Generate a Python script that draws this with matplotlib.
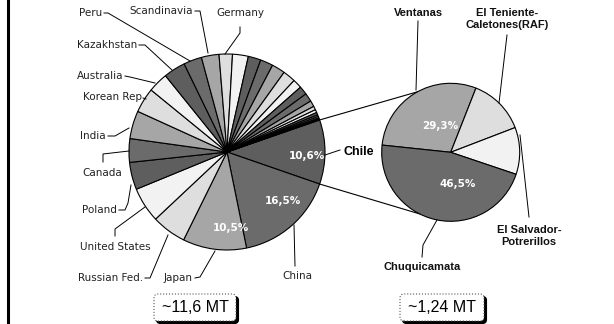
import matplotlib
matplotlib.use('Agg')
import matplotlib.pyplot as plt
from matplotlib.patches import FancyBboxPatch
import numpy as np

# world refined copper consumption share (%) - clockwise from Chile
countries = ['Chile', 'China', 'Japan', 'Russian Fed.', 'United States', 'Poland',
             'Canada', 'India', 'Korean Rep', 'Australia', 'Kazakhstan', 'Peru',
             'Scandinavia', 'Germany']
country_share = [10.6, 16.5, 10.5, 5.7, 5.8, 4.5, 3.9, 4.6, 4.1, 3.3, 3.6, 3.0, 2.9, 2.2]
# remaining small producers, no label
others_share = [2.6, 2.1, 2.1, 2.2, 2.1, 1.5, 1.4, 1.4, 1.0,
                0.6, 0.5, 0.4, 0.3, 0.25, 0.15, 0.1, 0.1]

# Chilean smelters, share of Chile (%)
smelters = ['Ventanas', 'El Teniente-\nCaletones(RAF)', 'El Salvador-\nPotrerillos', 'Chuquicamata']
smelter_share = [29.3, 13.2, 11.0, 46.5]

totals = ['~11,6 MT', '~1,24 MT']

H = 324
def Y(y):
    return H - y

grays = ['#5e5e5e', '#6b6b6b', '#a6a6a6', '#dedede', '#f2f2f2']

fig = plt.figure(figsize=(6.14, 3.24), dpi=100)
ax = fig.add_axes([0, 0, 1, 1])

big_c = (227, Y(152))
big_r = 98
vals = country_share + others_share
cols = [grays[i % 5] for i in range(len(vals))]
# Chile slice centred on the horizontal
big_start = 360 * country_share[0] / 100 / 2
wedges, _ = ax.pie(vals, colors=cols, startangle=big_start, counterclock=False,
                   center=big_c, radius=big_r,
                   wedgeprops=dict(edgecolor='black', linewidth=0.8))

small_c = (450.7, Y(152.3))
small_r = 69
s_wedges, _ = ax.pie(smelter_share, colors=['#a6a6a6', '#dedede', '#f2f2f2', '#6b6b6b'],
                     startangle=174, counterclock=False, center=small_c, radius=small_r,
                     wedgeprops=dict(edgecolor='black', linewidth=0.8))

# lines from the Chile slice to the smelter pie
chile = wedges[0]
for a_big, a_small in [(chile.theta2, 118.7), (chile.theta1, 243.2)]:
    x0 = big_c[0] + big_r * np.cos(np.radians(a_big))
    y0 = big_c[1] + big_r * np.sin(np.radians(a_big))
    x1 = small_c[0] + small_r * np.cos(np.radians(a_small))
    y1 = small_c[1] + small_r * np.sin(np.radians(a_small))
    ax.plot([x0, x1], [y0, y1], color='black', lw=0.8, zorder=0.5)

lab_font = dict(family='DejaVu Sans', fontsize=7.5, color='#222222')

# text x, text y, alignment, leader points
country_labels = {
    'Peru': (102, 13, 'right', [(104, 13), (108, 13), (190, 61)]),
    'Scandinavia': (193, 11, 'right', [(195, 11), (200, 11), (208, 53)]),
    'Germany': (240, 13, 'center', [(240, 27), (240, 33), (225, 54)]),
    'Kazakhstan': (137, 45, 'right', [(139, 45), (145, 45), (172, 70)]),
    'Australia': (123, 76, 'right', [(125, 76), (130, 77), (155, 83)]),
    'Korean Rep': (142, 97, 'right', [(143, 98), (146, 99)]),
    'India': (106, 136, 'right', [(108, 136), (115, 136), (129, 128)]),
    'Canada': (102, 173, 'center', [(103, 162), (103, 154), (129, 151)]),
    'Poland': (117, 210, 'right', [(119, 210), (125, 210), (128, 203), (131, 185)]),
    'United States': (115, 247, 'center', [(115, 236), (115, 229), (145, 207)]),
    'Russian Fed.': (143, 278, 'right', [(145, 278), (150, 278), (168, 235)]),
    'Japan': (193, 278, 'right', [(195, 278), (200, 277), (215, 251)]),
    'China': (297, 276, 'center', [(295, 266), (294, 225)]),
}
for name, (tx, ty, ha, pts) in country_labels.items():
    ax.text(tx, Y(ty), name, ha=ha, va='center', **lab_font)
    px, py = zip(*pts)
    ax.plot(px, [Y(p) for p in py], color='black', lw=0.7)

ax.text(343, Y(152), countries[0], ha='left', va='center', family='Liberation Sans',
        fontsize=9, fontweight='bold')
ax.plot([325, 340], [Y(155), Y(150)], color='black', lw=0.7)

smelter_labels = [
    (418, 13, [(418, 21), (416, 90)]),
    (507, 19, [(507, 35), (499, 103)]),
    (529, 236, [(529, 217), (520, 135)]),
    (422, 267, [(422, 257), (423, 245), (437, 220)]),
]
for name, (tx, ty, pts) in zip(smelters, smelter_labels):
    ax.text(tx, Y(ty), name, ha='center', va='center', family='Liberation Sans',
            fontsize=8, fontweight='bold', linespacing=1.2, color='#111111')
    px, py = zip(*pts)
    ax.plot(px, [Y(p) for p in py], color='black', lw=0.7)

def pct(v):
    return ('%.1f%%' % v).replace('.', ',')

pct_font = dict(family='DejaVu Sans', fontsize=7.5, fontweight='bold', color='white',
                ha='center', va='center')
ax.text(307, Y(156), pct(country_share[0]), **pct_font)
ax.text(283, Y(201), pct(country_share[1]), **pct_font)
ax.text(231, Y(228), pct(country_share[2]), **pct_font)
ax.text(440, Y(126), pct(smelter_share[0]), **pct_font)
ax.text(458, Y(184), pct(smelter_share[3]), **pct_font)

# total boxes with drop shadow
for (bx, bw), label in zip([(154, 82), (400, 84)], totals):
    by, bh = Y(321), 27
    shadow = FancyBboxPatch((bx + 2.5, by - 2.5), bw, bh,
                            boxstyle='round,pad=0,rounding_size=4',
                            facecolor='black', edgecolor='black', lw=0.8)
    box = FancyBboxPatch((bx, by), bw, bh, boxstyle='round,pad=0,rounding_size=4',
                         facecolor='white', edgecolor='#555555', lw=0.8, linestyle=':')
    ax.add_patch(shadow)
    ax.add_patch(box)
    ax.text(bx + bw / 2, by + bh / 2, label, ha='center', va='center',
            family='Liberation Sans', fontsize=11.5)

# left frame line
ax.plot([8, 8], [0, H], color='black', lw=2.2)

ax.set_xlim(0, 614)
ax.set_ylim(0, H)
ax.set_aspect('equal')
ax.axis('off')

fig.savefig('out.png', dpi=100)
